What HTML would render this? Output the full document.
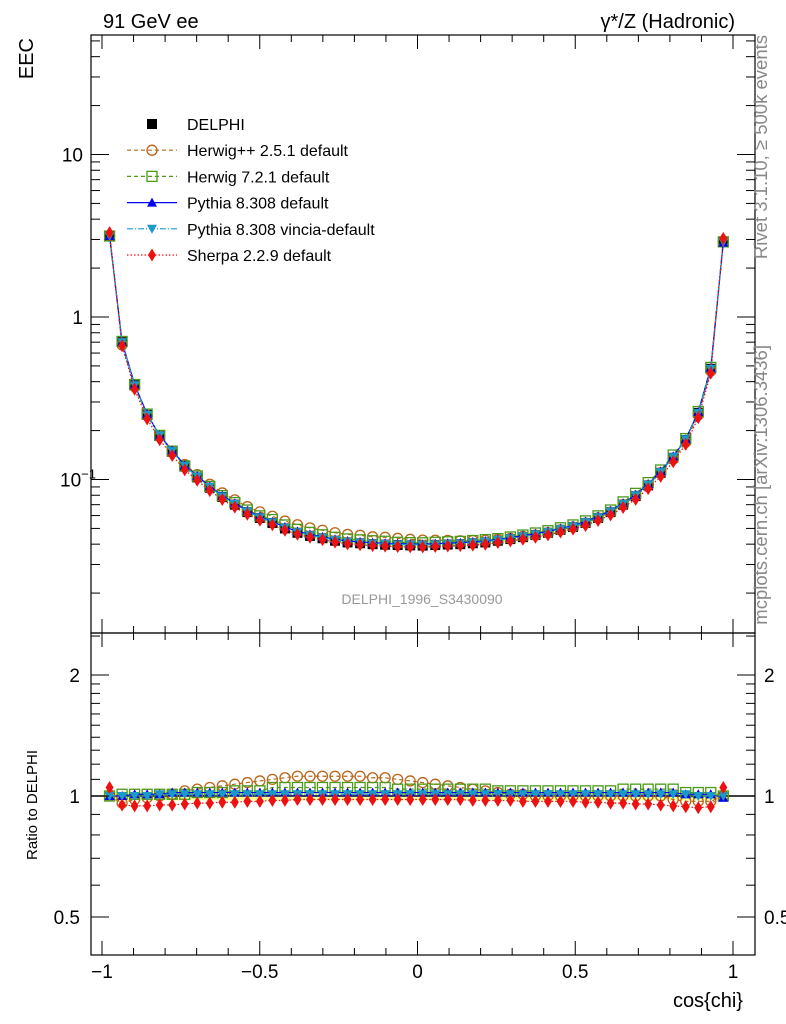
<!DOCTYPE html>
<html><head><meta charset="utf-8"><style>
html,body{margin:0;padding:0;background:#fff}
svg{display:block;font-family:"Liberation Sans",Arial,sans-serif}
</style></head><body>
<svg id="c" width="786" height="1024" viewBox="0 0 786 1024" xmlns="http://www.w3.org/2000/svg"></svg>
<script>
const binStart = -0.976, binStep = 0.0397;
const delphi = [3.15,0.70,0.38,0.25,0.185,0.148,0.12,0.103,0.089,0.078,0.070,0.063,0.058,0.054,0.050,0.047,0.045,0.0435,0.042,0.041,0.0405,0.040,0.0397,0.0395,0.0393,
0.0392,0.0395,0.0398,0.040,0.0405,0.041,0.042,0.043,0.0442,0.0455,0.047,0.049,0.051,0.054,0.058,0.063,0.070,0.079,0.092,0.110,0.136,0.175,0.257,0.48,2.9];
const ratioHerwigpp = [1.00,0.96,0.98,0.99,1.00,1.01,1.03,1.04,1.05,1.06,1.07,1.08,1.09,1.10,1.11,1.12,1.12,1.12,1.12,1.12,1.12,1.11,1.11,1.10,1.09,1.08,1.07,1.06,1.05,1.04,1.03,1.02,1.01,1.01,1.00,1.00,1.00,1.00,1.00,1.00,1.00,1.00,1.00,1.00,1.00,0.98,0.97,0.97,0.97,1.00];
const ratioHerwig7 = [1.00,1.01,1.01,1.01,1.01,1.01,1.01,1.02,1.02,1.02,1.03,1.03,1.03,1.05,1.05,1.05,1.05,1.05,1.05,1.05,1.05,1.05,1.05,1.04,1.04,1.04,1.04,1.04,1.04,1.04,1.04,1.03,1.03,1.03,1.03,1.03,1.03,1.03,1.03,1.03,1.03,1.04,1.04,1.04,1.04,1.04,1.02,1.02,1.02,1.00];
const ratioPythia = [1.00,1.00,1.01,1.01,1.01,1.02,1.02,1.02,1.02,1.02,1.02,1.02,1.02,1.02,1.02,1.02,1.02,1.02,1.02,1.02,1.02,1.02,1.02,1.02,1.02,1.02,1.02,1.02,1.02,1.02,1.02,1.02,1.02,1.02,1.02,1.02,1.02,1.02,1.02,1.02,1.02,1.02,1.02,1.02,1.02,1.02,1.01,1.01,1.01,0.99];
const ratioVincia = [1.00,1.00,1.00,1.00,1.01,1.01,1.01,1.01,1.01,1.01,1.01,1.01,1.01,1.01,1.01,1.01,1.01,1.01,1.01,1.01,1.01,1.01,1.01,1.01,1.01,1.01,1.01,1.01,1.01,1.01,1.01,1.01,1.01,1.01,1.01,1.01,1.01,1.01,1.01,1.01,1.01,1.01,1.01,1.01,1.01,1.01,1.01,1.00,1.00,1.00];
const ratioSherpa = [1.05,0.95,0.945,0.945,0.95,0.95,0.955,0.96,0.96,0.965,0.965,0.97,0.97,0.975,0.975,0.98,0.98,0.98,0.98,0.98,0.98,0.98,0.98,0.98,0.98,0.98,0.98,0.98,0.98,0.975,0.975,0.975,0.975,0.97,0.97,0.97,0.97,0.97,0.965,0.965,0.96,0.96,0.955,0.955,0.95,0.945,0.94,0.935,0.94,1.05];
const xTicks = [-1,-0.5,0,0.5,1];
const xTickLabels = ["\u22121","\u22120.5","0","0.5","1"];

const NS="http://www.w3.org/2000/svg", svg=document.getElementById('c');
function mk(tag,attrs,parent){const e=document.createElementNS(NS,tag);for(const k in attrs)e.setAttribute(k,attrs[k]);(parent||svg).appendChild(e);return e;}
const L=91,R=755,T=35,M=633,B=955;
const X=c=>417.5+315.5*c;
const YM=v=>317-162.5*Math.log10(v);
const YR=r=>796-121*Math.log2(r);
const bins=delphi.map((_,i)=>binStart+i*binStep);

const band=mk('g',{});


bins.forEach((c,i)=>{mk('rect',{x:X(c)-6.25,y:YR(1.025),width:12.5,height:YR(0.975)-YR(1.025),fill:'#ffff99'},band);});
mk('line',{x1:L,x2:R,y1:YR(1),y2:YR(1),stroke:'#000','stroke-width':1.5});

function marker(g,type,x,y,color){
  const s=5;
  if(type==='sq') mk('rect',{x:x-s,y:y-s,width:2*s,height:2*s,fill:'#000'},g);
  else if(type==='circ') mk('circle',{cx:x,cy:y,r:s,fill:'none',stroke:color,'stroke-width':1.3},g);
  else if(type==='osq') mk('rect',{x:x-s,y:y-s,width:2*s,height:2*s,fill:'none',stroke:color,'stroke-width':1.3},g);
  else if(type==='tri') mk('polygon',{points:`${x},${y-s} ${x-s},${y+s*0.8} ${x+s},${y+s*0.8}`,fill:color},g);
  else if(type==='itri') mk('polygon',{points:`${x},${y+s} ${x-s},${y-s*0.8} ${x+s},${y-s*0.8}`,fill:color},g);
  else if(type==='dia') mk('polygon',{points:`${x},${y-s*1.3} ${x-s*0.8},${y} ${x},${y+s*1.3} ${x+s*0.8},${y}`,fill:color},g);
}
const series=[
 {name:'herwigpp',r:ratioHerwigpp,type:'circ',color:'#b8661a',dash:'4,3'},
 {name:'herwig7',r:ratioHerwig7,type:'osq',color:'#4c9a1a',dash:'4,3'},
 {name:'pythia',r:ratioPythia,type:'tri',color:'#0000ee',dash:''},
 {name:'vincia',r:ratioVincia,type:'itri',color:'#1a9ac8',dash:'6,2,1,2'},
 {name:'sherpa',r:ratioSherpa,type:'dia',color:'#ee1111',dash:'1.5,2'}
];
const dg=mk('g',{});


bins.forEach((c,i)=>marker(dg,'sq',X(c),YM(delphi[i])));
series.forEach(s=>{
  const g=mk('g',{});
  
  
  mk('polyline',{points:bins.map((c,i)=>X(c)+','+YM(delphi[i]*s.r[i])).join(' '),fill:'none',stroke:s.color,'stroke-width':1.2,'stroke-dasharray':s.dash},g);
  bins.forEach((c,i)=>marker(g,s.type,X(c),YM(delphi[i]*s.r[i]),s.color));
  const g2=mk('g',{});
  
  
  mk('polyline',{points:bins.map((c,i)=>X(c)+','+YR(s.r[i])).join(' '),fill:'none',stroke:s.color,'stroke-width':1.2,'stroke-dasharray':s.dash},g2);
  bins.forEach((c,i)=>marker(g2,s.type,X(c),YR(s.r[i]),s.color));
});

mk('rect',{x:L,y:T,width:R-L,height:M-T,fill:'none',stroke:'#000','stroke-width':1.2});
mk('rect',{x:L,y:M,width:R-L,height:B-M,fill:'none',stroke:'#000','stroke-width':1.2});
for(let k=-10;k<=10;k++){const c=k/10,x=X(c),len=(k%5===0)?14:7;
  [T,M].forEach(y=>mk('line',{x1:x,x2:x,y1:y,y2:y+len,stroke:'#000'}));
  [M,B].forEach(y=>mk('line',{x1:x,x2:x,y1:y,y2:y-len,stroke:'#000'}));}
xTicks.forEach((c,i)=>{const t=mk('text',{x:X(c),y:978,'text-anchor':'middle','font-size':19});t.textContent=xTickLabels[i];
 });
for(let d=-2;d<=1;d++)for(let m=1;m<=9;m++){const v=m*Math.pow(10,d),y=YM(v);if(y<T||y>M)continue;const len=m===1?18:9;
 mk('line',{x1:L,x2:L+len,y1:y,y2:y,stroke:'#000'});mk('line',{x1:R,x2:R-len,y1:y,y2:y,stroke:'#000'});}
function txt(s,attrs,name){const t=mk('text',attrs);t.innerHTML=s;return t;}
txt('10',{x:83,y:YM(10)+7,'text-anchor':'end','font-size':19},'y-tick-label');
txt('1',{x:83,y:YM(1)+7,'text-anchor':'end','font-size':19},'y-tick-label');
txt('10<tspan dy="-8" font-size="13">\u22121</tspan>',{x:60,y:YM(0.1)+7,'font-size':19},'y-tick-label');
[0.4,0.5,0.6,0.7,0.8,0.9,1,1.1,1.2,1.3,1.4,1.5,1.6,1.7,1.8,1.9,2,2.5].forEach(r=>{const y=YR(r);if(y<M||y>B)return;const len=(r===0.5||r===1||r===2)?18:9;
 mk('line',{x1:L,x2:L+len,y1:y,y2:y,stroke:'#000'});mk('line',{x1:R,x2:R-len,y1:y,y2:y,stroke:'#000'});});
[['2',2],['1',1],['0.5',0.5]].forEach(([s,r])=>{txt(s,{x:80,y:YR(r)+7,'text-anchor':'end','font-size':19},'ratio-tick-label');
 txt(s,{x:764,y:YR(r)+7,'font-size':19},'ratio-tick-label-right');});
txt('91 GeV ee',{x:103,y:28,'font-size':20},'energy-label');
txt('\u03b3*/Z (Hadronic)',{x:735,y:28,'text-anchor':'end','font-size':20},'process-label');
txt('EEC',{x:0,y:0,'font-size':20,transform:'translate(33,38) rotate(-90)','text-anchor':'end'},'y-axis-title');
txt('Ratio to DELPHI',{x:0,y:0,'font-size':15,transform:'translate(37,860) rotate(-90)'},'ratio-axis-title');
txt('cos{chi}',{x:743,y:1007,'text-anchor':'end','font-size':20},'x-axis-title');
txt('DELPHI_1996_S3430090',{x:422,y:604,'text-anchor':'middle','font-size':14,fill:'#999'},'analysis-id');
txt('Rivet 3.1.10, \u2265 500k events',{x:0,y:0,'font-size':18.5,fill:'#888',transform:'translate(767,35) rotate(-90)','text-anchor':'end'},'rivet-label');
txt('mcplots.cern.ch [arXiv:1306.3436]',{x:0,y:0,'font-size':18.5,fill:'#888',transform:'translate(767,345) rotate(-90)','text-anchor':'end'},'mcplots-label');
const leg=[['DELPHI','sq','#000',''],['Herwig++ 2.5.1 default','circ','#b8661a','4,3'],['Herwig 7.2.1 default','osq','#4c9a1a','4,3'],
['Pythia 8.308 default','tri','#0000ee',''],['Pythia 8.308 vincia-default','itri','#1a9ac8','6,2,1,2'],['Sherpa 2.2.9 default','dia','#ee1111','1.5,2']];
leg.forEach((l,i)=>{const y=124+i*26.2;const g=mk('g',{});
 
 if(i>0)mk('line',{x1:127,x2:177,y1:y,y2:y,stroke:l[2],'stroke-width':1.2,'stroke-dasharray':l[3]},g);
 marker(g,l[1],152,y,l[2]);
 const t=mk('text',{x:187,y:y+6,'font-size':16},g);t.textContent=l[0];});
</script>
</body></html>
